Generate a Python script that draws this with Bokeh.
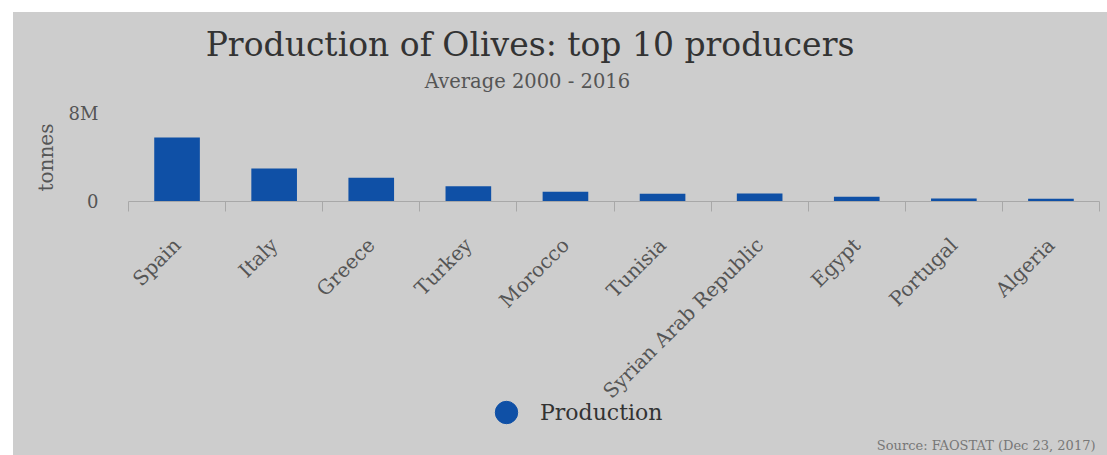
import math
from bokeh.plotting import figure
from bokeh.models import (Range1d, FixedTicker, Legend, LegendItem, Spacer,
                          ColumnDataSource, Label)
from bokeh.layouts import column, row
from bokeh.embed import file_html
from bokeh.resources import INLINE

# ---- data ----
countries = ["Spain", "Italy", "Greece", "Turkey", "Morocco", "Tunisia",
             "Syrian Arab Republic", "Egypt", "Portugal", "Algeria"]
production = [5820000, 3000000, 2170000, 1390000, 880000, 700000,
              730000, 440000, 270000, 260000]
y_ticks = [0, 8000000]
y_tick_labels = ["0", "8M"]
title_text = "Production of Olives: top 10 producers"
subtitle_text = "Average 2000 - 2016"
y_title = "tonnes"
series_name = "Production"
source_text = "Source: FAOSTAT (Dec 23, 2017)"

# ---- style ----
BG = "#cdcdcd"
BAR = "#0f50a6"
FONT = "DejaVu Serif"
FW = 971          # frame width shared by all stacked figures
BL, BR = 115, 8   # left / right borders
HEAD_H = 86
FOOT_H = 56
BGSTYLE = {"background-color": BG}


def blank(h, **kw):
    f = figure(frame_width=FW, frame_height=h, output_backend="svg",
               toolbar_location=None, title=None, tools="",
               x_axis_location=None, y_axis_location=None,
               x_range=Range1d(0, FW), y_range=Range1d(0, h),
               min_border_left=BL, min_border_right=BR,
               min_border_top=0, min_border_bottom=0, styles=BGSTYLE, **kw)
    f.background_fill_color = BG
    f.border_fill_color = BG
    f.outline_line_color = None
    f.grid.visible = False
    return f


# ---- header: title + subtitle (x measured from the frame's left edge) ----
head = blank(HEAD_H)
head.add_layout(Label(x=401.5, y=54, text=title_text, text_align="center",
                      text_baseline="alphabetic", text_font=FONT,
                      text_font_size="33px", text_color="#333333"))
head.add_layout(Label(x=399, y=17, text=subtitle_text, text_align="center",
                      text_baseline="alphabetic", text_font=FONT,
                      text_font_size="19.5px", text_color="#555555"))

# ---- main chart ----
centers = [i + 0.5 for i in range(len(countries))]
src = ColumnDataSource(dict(x=centers, top=production, name=countries))

p = figure(frame_width=FW, frame_height=88, output_backend="svg",
           toolbar_location=None, title=None, tools="",
           x_range=Range1d(0, len(countries)), y_range=Range1d(0, y_ticks[-1]),
           min_border_left=BL, min_border_right=BR, min_border_top=15,
           min_border_bottom=150, styles=BGSTYLE)
p.background_fill_color = BG
p.border_fill_color = BG
p.outline_line_color = None

p.vbar(x="x", top="top", bottom=0, width=0.47, source=src,
       fill_color=BAR, line_color=None)

xa = p.xaxis[0]
xa.ticker = FixedTicker(ticks=centers, minor_ticks=list(range(len(countries) + 1)))
xa.major_label_overrides = {c: n for c, n in zip(centers, countries)}
xa.major_label_orientation = math.pi / 4
xa.major_tick_out = 0
xa.major_tick_in = 0
xa.minor_tick_out = 10
xa.minor_tick_in = 0
xa.minor_tick_line_color = "#a8a8a8"
xa.axis_line_color = "#a8a8a8"
xa.major_label_text_font = FONT
xa.major_label_text_font_size = "20px"
xa.major_label_text_color = "#555555"
xa.major_label_standoff = 30

ya = p.yaxis[0]
ya.ticker = FixedTicker(ticks=y_ticks)
ya.major_label_overrides = {t: l for t, l in zip(y_ticks, y_tick_labels)}
ya.axis_line_color = None
ya.major_tick_line_color = None
ya.minor_tick_line_color = None
ya.major_label_text_font = FONT
ya.major_label_text_font_size = "18px"
ya.major_label_text_color = "#555555"
ya.major_label_standoff = 24
ya.axis_label = y_title
ya.axis_label_text_font = FONT
ya.axis_label_text_font_size = "20px"
ya.axis_label_text_font_style = "normal"
ya.axis_label_text_color = "#555555"
ya.axis_label_standoff = 8

p.xgrid.grid_line_color = None
p.ygrid.ticker = FixedTicker(ticks=y_ticks[1:])
p.ygrid.grid_line_color = "#b0b0b0"

# ---- footer: legend + source ----
foot = blank(FOOT_H, margin=(-14, 0, 0, 0))
dummy = foot.scatter(x=[float("nan")], y=[float("nan")], marker="circle",
                     fill_color=BAR, line_color=BAR, size=0)
legend = Legend(items=[LegendItem(label=series_name, renderers=[dummy])],
                location=(350, 16), orientation="horizontal",
                glyph_width=56, glyph_height=56, label_standoff=6,
                padding=0, margin=0, background_fill_alpha=0, border_line_color=None,
                label_text_font=FONT, label_text_font_size="22px",
                label_text_color="#333333")
foot.add_layout(legend, "center")
foot.add_layout(Label(x=967, y=11, text=source_text, text_align="right",
                      text_baseline="alphabetic", text_font=FONT,
                      text_font_size="13px", text_color="#777777"))

charts = column(head, p, foot, spacing=0, styles=BGSTYLE)
layout = column(Spacer(height=12), row(Spacer(width=13), charts, spacing=0),
                spacing=0)
open("out.html", "w").write(file_html(layout, INLINE))
